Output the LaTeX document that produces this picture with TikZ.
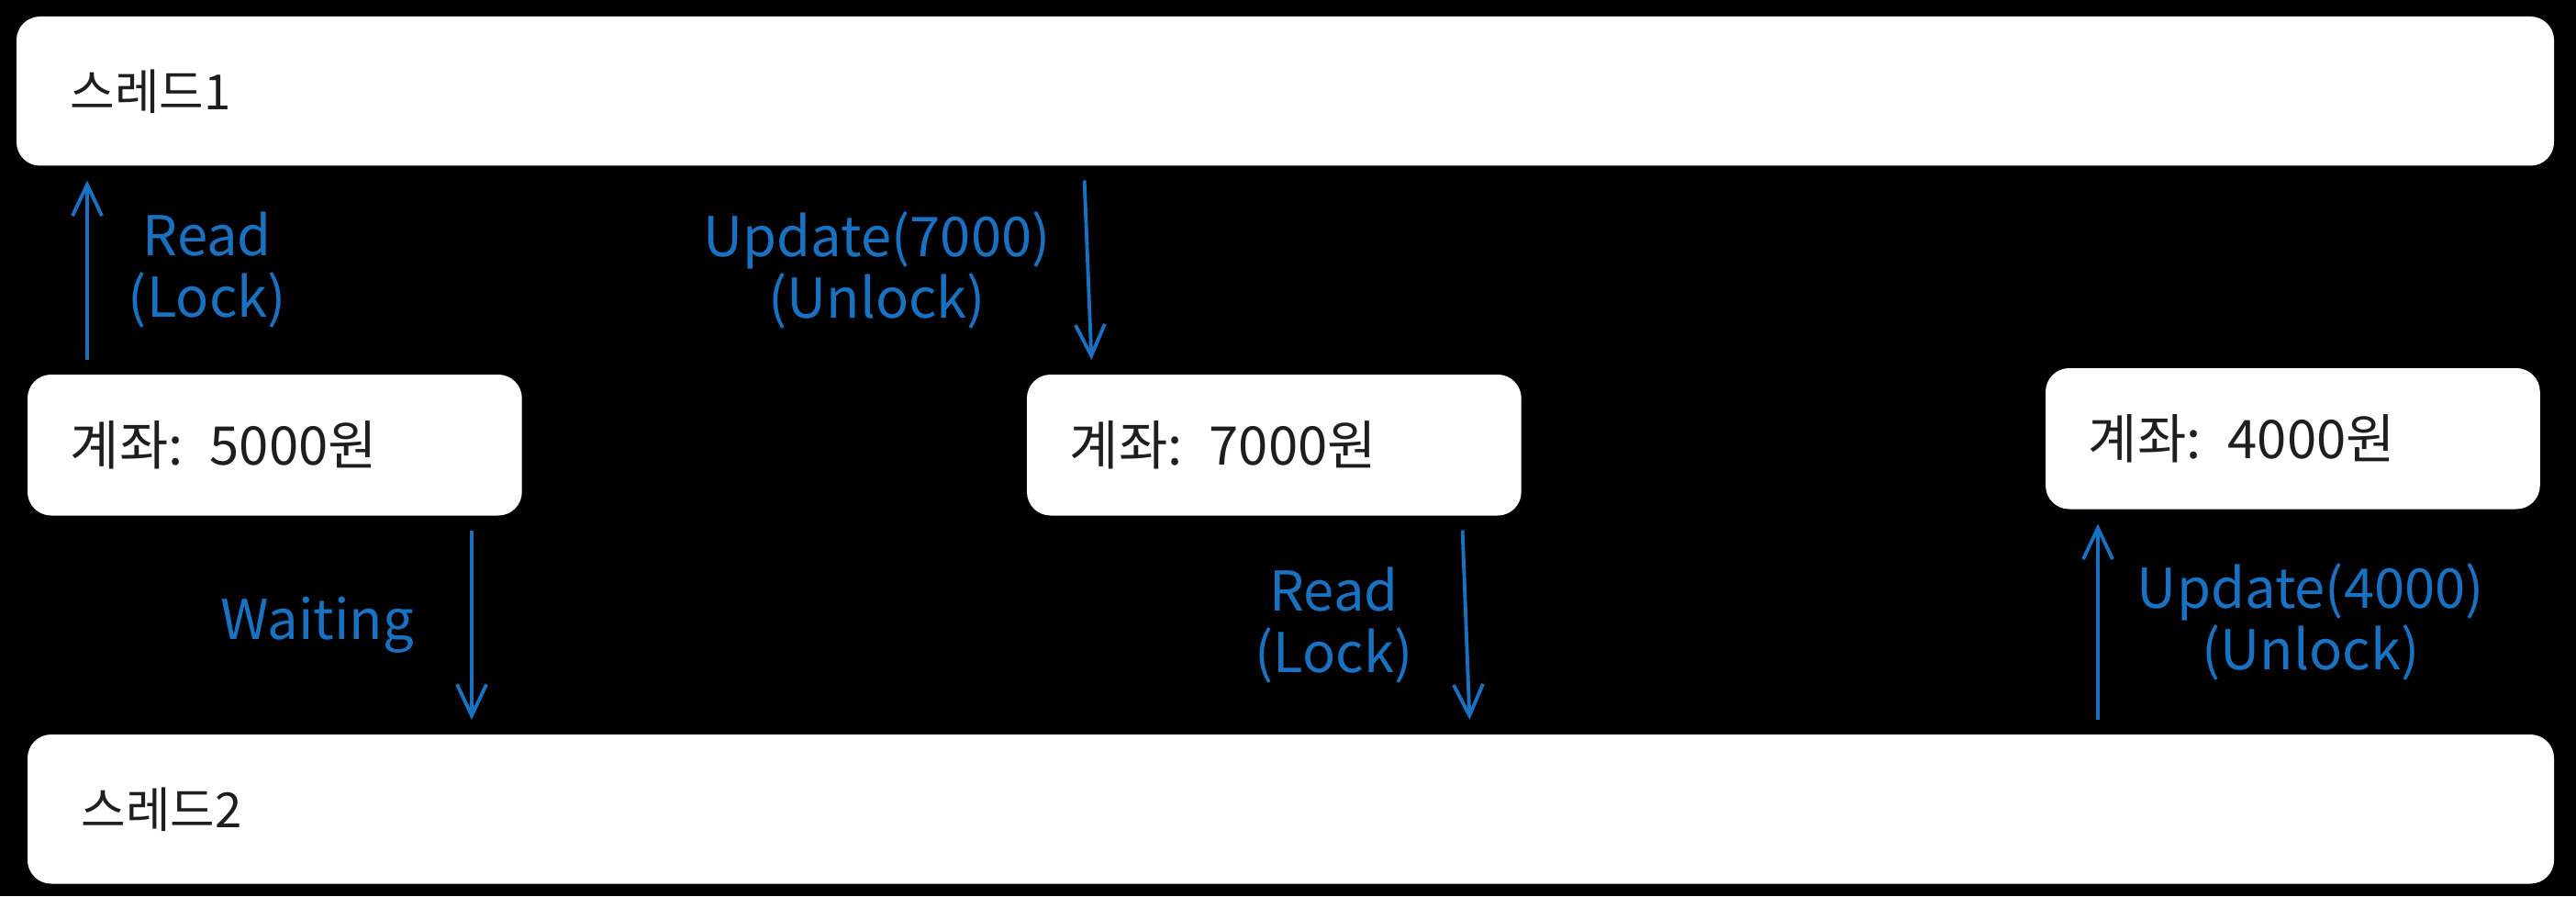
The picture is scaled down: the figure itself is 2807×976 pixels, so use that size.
\documentclass[tikz,border=0pt]{standalone}
\usepackage{fontspec}
\setmainfont{Noto Sans CJK KR}
\usetikzlibrary{arrows.meta}
\definecolor{inkblue}{HTML}{1971C2}
\definecolor{ink}{HTML}{1E1E1E}
\begin{document}
\begin{tikzpicture}[x=0.01cm,y=-0.01cm,
  box/.style={fill=white,draw=white,rounded corners=0.25cm,anchor=north west,align=left,text=ink,font=\fontsize{15}{18}\selectfont},
  threadbox/.style={box,minimum height=1.61cm,inner xsep=0.58cm},
  accbox/.style={box,minimum height=1.52cm,inner xsep=0.46cm,text width=4.45cm,font=\fontsize{16.5}{19}\selectfont},
  flow/.style={draw=inkblue,line width=1.1pt,-{Straight Barb[length=0.34cm,width=0.32cm]},shorten <=0.16cm,shorten >=0.16cm},
  note/.style={text=inkblue,align=center,inner sep=0pt,font=\fontsize{17}{19}\selectfont}]
\fill[black] (0,0) rectangle (2807,976);
\useasboundingbox (0,0) rectangle (2807,976);
\node[threadbox,text width=26.46cm] (t1) at (18,18) {스레드1};
\node[threadbox,text width=26.34cm] (t2) at (30,800) {스레드2};
\node[accbox] (acc1) at (30,408) {계좌: 5000원};
\node[accbox] (acc2) at (1119,408) {계좌: 7000원};
\node[accbox] (acc3) at (2229,401) {계좌: 4000원};
% thread 1
\draw[flow] (acc1.north -| 95,0) -- (t1.south -| 95,0) node[note,midway,right=0.43cm] {Read\\(Lock)};
\draw[flow] (t1.south -| 1181,0) -- (acc2.north -| 1190,0) node[note,midway,left=0.39cm] {Update(7000)\\(Unlock)};
% thread 2
\draw[flow] (acc1.south -| 514,0) -- (t2.north -| 514,0) node[note,midway,left=0.61cm] {Waiting};
\draw[flow] (acc2.south -| 1593,0) -- (t2.north -| 1602,0) node[note,midway,left=0.56cm] {Read\\(Lock)};
\draw[flow] (t2.north -| 2286,0) -- (acc3.south -| 2286,0) node[note,midway,right=0.41cm] {Update(4000)\\(Unlock)};
\end{tikzpicture}
\end{document}
